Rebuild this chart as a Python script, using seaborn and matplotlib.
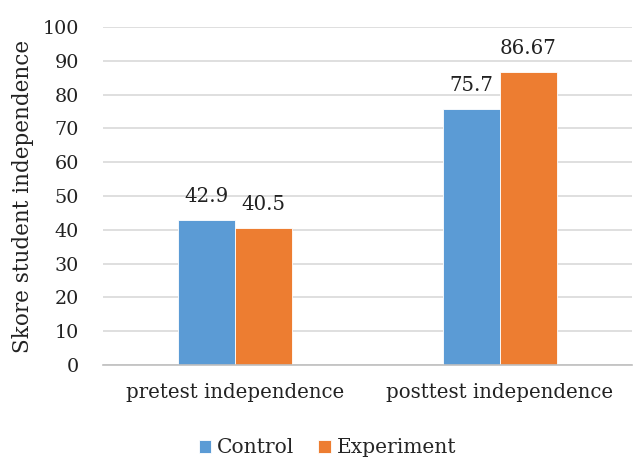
import pandas as pd
import numpy as np
import matplotlib.pyplot as plt
import seaborn as sns

# data
categories = ["pretest independence", "posttest independence"]
groups = ["Control", "Experiment"]
control = [42.9, 75.7]
experiment = [40.5, 86.67]
value_labels = {"Control": ["42.9", "75.7"], "Experiment": ["40.5", "86.67"]}

df = pd.DataFrame({
    "test": categories * 2,
    "group": [groups[0]] * 2 + [groups[1]] * 2,
    "score": control + experiment,
})

sns.set_style("white")
plt.rcParams['font.family'] = ['DejaVu Serif']

fig = plt.figure(figsize=(6.42, 4.58), dpi=100)
ax = fig.add_axes([0.160, 0.203, 0.825, 0.738])

sns.barplot(data=df, x="test", y="score", hue="group", order=categories,
            hue_order=groups, palette=["#5B9BD5", "#ED7D31"], saturation=1,
            width=0.43, gap=0, edgecolor="white", linewidth=0.6, ax=ax, legend=True)

for cont, g in zip(ax.containers, groups):
    ax.bar_label(cont, labels=value_labels[g], padding=10, fontsize=14.2, color="#222222")

ax.set_xlim(-0.5, 1.5)
ax.set_ylim(0, 100)
ax.set_yticks(np.arange(0, 101, 10))
ax.yaxis.grid(True, color="#d9d9d9", linewidth=1.2)
ax.set_axisbelow(True)
for s in ["left", "right", "top"]:
    ax.spines[s].set_visible(False)
ax.spines["bottom"].set_color("#bfbfbf")
ax.spines["bottom"].set_linewidth(1.2)

ax.set_xticks([-0.5, 0.5, 1.5], minor=True)
ax.tick_params(axis="x", which="minor", length=7, color="#bfbfbf", width=1.2)
ax.tick_params(axis="x", which="major", length=0, pad=13, labelsize=14.2, labelcolor="#222222")
ax.tick_params(axis="y", length=0, pad=17, labelsize=13.8, labelcolor="#222222")

ax.set_xlabel("")
ax.set_ylabel("Skore student independence", fontsize=15.5, color="#222222", labelpad=6)

handles, labels = ax.get_legend_handles_labels()
ax.get_legend().remove()
fig.legend(handles, labels, loc="center", bbox_to_anchor=(0.51, 0.022), ncol=2,
           frameon=False, fontsize=14.6, handlelength=0.6, handleheight=0.6,
           handletextpad=0.3, columnspacing=1.2)

fig.savefig("out.png", dpi=100)
